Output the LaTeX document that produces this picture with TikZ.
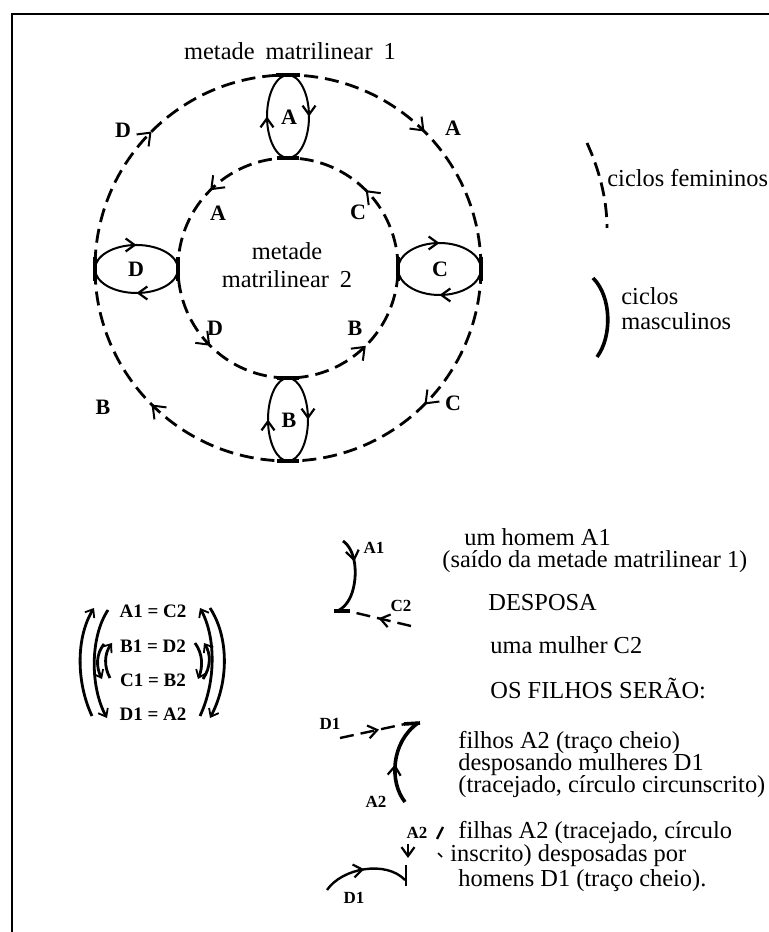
\documentclass[tikz,border=0pt]{standalone}
\usepackage{fontspec}
\setmainfont{Liberation Serif}
\usetikzlibrary{arrows.meta,decorations.markings}
\begin{document}
\begin{tikzpicture}[x=0.5pt,y=0.5pt,
  >={Straight Barb[length=5.5pt,width=8.5pt,line width=1pt]},
  etip/.tip={Straight Barb[length=4.5pt,width=6.5pt,line width=1.1pt]},
  fem/.style={line width=1.4pt, dash pattern=on 7pt off 3.5pt},
  masc/.style={line width=1pt},
  bar/.style={line width=1.8pt},
  lbl/.style={font=\fontsize{11}{11}\selectfont\bfseries, inner sep=0pt},
  slbl/.style={font=\fontsize{8.5}{9}\selectfont\bfseries, inner sep=0pt},
  txt/.style={font=\fontsize{12.2}{12}\selectfont, inner sep=0pt, anchor=base west},
  ctxt/.style={font=\fontsize{12.2}{12}\selectfont, inner sep=0pt, anchor=base},
  eq/.style={font=\fontsize{9.5}{10}\selectfont\bfseries, inner sep=0pt},
  eqarc/.style={line width=1.4pt, -{Straight Barb[length=3.5pt,width=5.5pt,line width=0.9pt]}},
  marks/.style={postaction={decorate}, decoration={markings, #1}},
]
\useasboundingbox (0,0) rectangle (769,932);
% frame
\draw[line width=1pt] (12,0) -- (12,918) -- (769,918);

\coordinate (O) at (288,664);
% female cycles (dashed circles)
\draw[fem, marks={mark=at position 0.125 with {\arrowreversed{>}}, mark=at position 0.375 with {\arrowreversed{>}}, mark=at position 0.625 with {\arrowreversed{>}}, mark=at position 0.875 with {\arrowreversed{>}}}] (O) circle[radius=193];
\draw[fem, marks={mark=at position 0.125 with {\arrow{>}}, mark=at position 0.375 with {\arrow{>}}, mark=at position 0.625 with {\arrow{>}}, mark=at position 0.875 with {\arrow{>}}}] (O) circle[radius=110];

% male cycles (ellipses)
\draw[masc, marks={mark=at position 0.25 with {\arrow{etip}}, mark=at position 0.75 with {\arrow{etip}}}] (288,857) arc[start angle=90, end angle=-270, x radius=21, y radius=41.5];
\draw[masc, marks={mark=at position 0.25 with {\arrow{etip}}, mark=at position 0.75 with {\arrow{etip}}}] (288,554) arc[start angle=90, end angle=-270, x radius=20, y radius=41.5];
\draw[masc, marks={mark=at position 0.25 with {\arrow{etip}}, mark=at position 0.75 with {\arrow{etip}}}] (95,663) arc[start angle=180, end angle=-180, x radius=41.5, y radius=24];
\draw[masc, marks={mark=at position 0.25 with {\arrow{etip}}, mark=at position 0.75 with {\arrow{etip}}}] (398,663) arc[start angle=180, end angle=-180, x radius=41.5, y radius=26];
% tangency bars
\draw[bar] (276,857) -- (300,857);
\draw[bar] (277,774) -- (299,774);
\draw[bar] (277,554) -- (299,554);
\draw[bar] (277,471) -- (299,471);
\draw[bar] (95,651) -- (95,675);
\draw[bar] (178,651) -- (178,675);
\draw[bar] (398,651) -- (398,675);
\draw[bar] (481,651) -- (481,675);

% letters in ellipses
\node[lbl] (eA) at (289,815) {A};
\node[lbl] (eB) at (289,512) {B};
\node[lbl] (eD) at (136,663) {D};
\node[lbl] (eC) at (440,663) {C};
% letters on outer circle
\node[lbl] (oD) at (123,802) {D};
\node[lbl] (oA) at (453,804) {A};
\node[lbl] (oC) at (453,529) {C};
\node[lbl] (oB) at (103,525) {B};
% letters on inner circle
\node[lbl] (iA) at (218,719) {A};
\node[lbl] (iC) at (358,720) {C};
\node[lbl] (iD) at (215,604) {D};
\node[lbl] (iB) at (355,604) {B};

% titles
\node[ctxt] (m1) at (290,872) {metade\hspace{0.45em}matrilinear\hspace{0.45em}1};
\node[ctxt] (m2a) at (287,672) {metade};
\node[ctxt] (m2b) at (287,644) {matrilinear\hspace{0.45em}2};

% legend
\draw[fem] (587,789) .. controls (598,765) and (607,735) .. (607,704);
\node[txt] (lf) at (607,745) {ciclos femininos};
\draw[line width=1.8pt] (593,654) .. controls (612,635) and (612,595) .. (597,575);
\node[txt] (lm1) at (621,627) {ciclos};
\node[txt] (lm2) at (621,602) {masculinos};

% equations
\node[eq] (e1) at (153,321) {A1 = C2};
\node[eq] (e2) at (153,286) {B1 = D2};
\node[eq] (e3) at (153,252) {C1 = B2};
\node[eq] (e4) at (153,218) {D1 = A2};
\draw[eqarc] (92,216) .. controls (76,250) and (76,295) .. (94,324);
\draw[eqarc] (108,322) .. controls (90,295) and (90,245) .. (107,214);
\draw[eqarc] (110,254) .. controls (104,265) and (104,278) .. (112,289);
\draw[eqarc] (104,288) .. controls (96,278) and (96,265) .. (102,253);
\draw[eqarc] (200,216) .. controls (216,250) and (216,295) .. (200,324);
\draw[eqarc] (210,324) .. controls (229,295) and (229,250) .. (210,214);
\draw[eqarc] (195,289) .. controls (203,278) and (203,265) .. (198,253);
\draw[eqarc] (203,253) .. controls (211,265) and (211,278) .. (204,289);

% small diagram 1
\node[slbl] (s1a) at (374,384) {A1};
\node[slbl] (s1c) at (401,326) {C2};
\draw[line width=1.4pt, marks={mark=at position 0.3 with {\arrow{etip}}}] (343,391) .. controls (356,382) and (358,357) .. (352,339) .. controls (349,330) and (343,323) .. (337,321);
\draw[bar] (334,321) -- (350,321);
\draw[fem, line width=1.2pt, marks={mark=at position 0.55 with {\arrow{etip}}}] (411,306) -- (352,320);

% small diagram 2
\node[slbl] (s2d) at (330,208) {D1};
\node[slbl] (s2a) at (376,130) {A2};
\draw[fem, line width=1.2pt, marks={mark=at position 0.6 with {\arrow{etip}}}] (340,194) -- (405,208);
\draw[bar] (404,208) -- (420,209);
\draw[line width=1.8pt, marks={mark=at position 0.45 with {\arrow{etip}}}] (405,130) .. controls (389,150) and (391,190) .. (418,209);

% small diagram 3
\node[slbl] (s3a) at (417,99) {A2};
\draw[line width=1.2pt] (443,105) -- (437,93);
\draw[line width=1.2pt, -{etip}] (408,88) -- (408,74);
\draw[line width=0.8pt] (438,79) -- (442,75);
\draw[line width=1.4pt] (406,67) -- (406,46);
\draw[line width=1.2pt, marks={mark=at position 0.5 with {\arrow{etip}}}] (327,42) .. controls (342,64) and (386,72) .. (405,52);
\node[slbl] (s3d) at (354,34) {D1};

% explanatory text
\node[txt] (t1) at (464,386) {um homem A1};
\node[txt] (t2) at (442,364) {(saído da metade matrilinear 1)};
\node[txt] (t3) at (488,321) {DESPOSA};
\node[txt] (t4) at (490,278) {uma mulher C2};
\node[txt] (t5) at (490,233) {OS FILHOS SERÃO:};
\node[txt] (t6) at (458,183) {filhos A2 (traço cheio)};
\node[txt] (t7) at (458,161) {desposando mulheres D1};
\node[txt] (t8) at (458,139) {(tracejado, círculo circunscrito)};
\node[txt] (t9) at (458,93) {filhas A2 (tracejado, círculo};
\node[txt] (t10) at (450,70) {inscrito) desposadas por};
\node[txt] (t11) at (458,46) {homens D1 (traço cheio).};
\end{tikzpicture}
\end{document}
